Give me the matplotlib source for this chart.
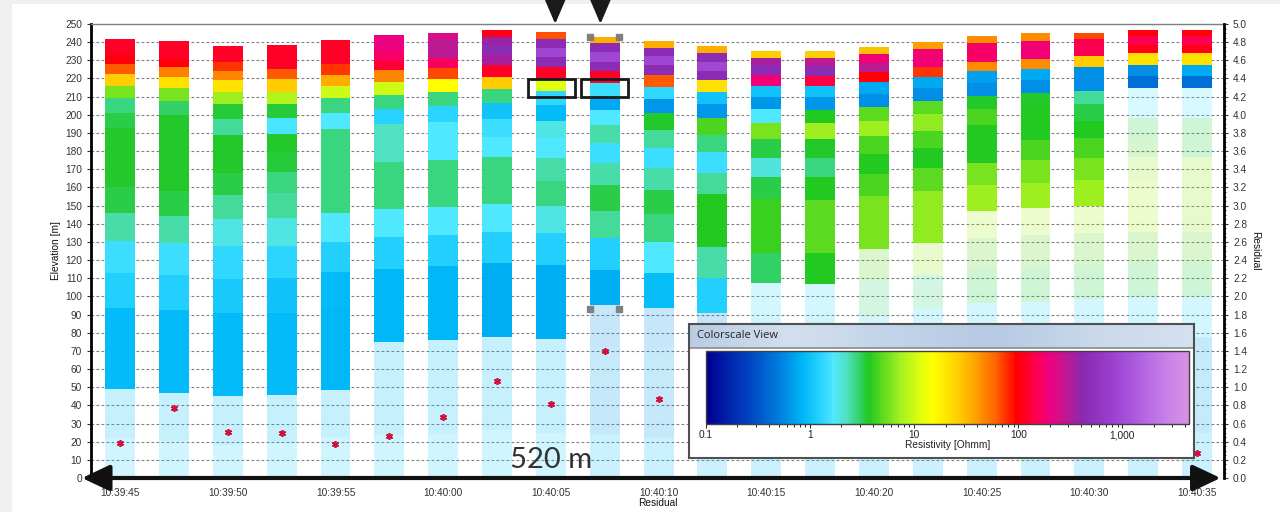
"""Resistivity sounding columns with residuals along a 520 m profile."""

import matplotlib

matplotlib.use("Agg")
import matplotlib.dates as mdates
import matplotlib.pyplot as plt
import matplotlib.ticker as mticker
import numpy as np
import pandas as pd
from matplotlib.cm import ScalarMappable
from matplotlib.colors import LinearSegmentedColormap, LogNorm
from matplotlib.patches import Rectangle

plt.rcParams["font.family"] = ["Liberation Sans", "DejaVu Sans"]

# sounding times (one column every 2.5 s)
times = pd.date_range("2021-06-14 10:39:45", periods=21, freq="2500ms")

# layer tops (m, top -> bottom) and layer resistivity (Ohm m) per sounding
layer_tops = [
    [241.7, 233.0, 228.0, 222.5, 216.0, 209.0, 201.0, 193.0, 160.0, 146.0, 130.7, 113.0, 93.8, 49.2, 22.0],
    [240.4, 231.0, 226.5, 221.0, 214.6, 207.6, 200.0, 158.2, 144.3, 129.3, 111.8, 92.5, 47.0, 20.5],
    [237.9, 229.3, 224.3, 219.2, 212.4, 205.8, 197.7, 188.9, 179.7, 168.1, 155.8, 142.4, 127.8, 109.6, 90.7, 45.2, 18.2],
    [238.4, 225.0, 219.5, 212.7, 206.1, 198.4, 189.3, 179.7, 168.7, 156.8, 142.9, 127.8, 110.0, 90.7, 45.5, 19.0],
    [241.2, 228.0, 222.0, 216.0, 209.0, 201.0, 192.2, 145.8, 130.1, 113.3, 94.3, 48.5, 22.7],
    [243.7, 235.7, 229.6, 224.7, 218.2, 210.9, 203.2, 194.8, 174.0, 148.0, 132.5, 115.0, 74.7, 23.7],
    [244.8, 241.5, 231.1, 226.0, 219.5, 212.6, 204.8, 195.9, 175.1, 149.4, 133.8, 116.7, 76.0, 24.0],
    [246.7, 242.6, 238.4, 232.9, 227.4, 221.0, 214.0, 206.3, 197.9, 188.0, 176.9, 150.9, 135.6, 118.2, 77.8, 26.4],
    [245.6, 241.5, 236.6, 232.0, 226.5, 219.2, 213.3, 205.4, 196.8, 187.0, 176.0, 163.7, 149.8, 134.7, 117.3, 76.7, 25.0],
    [243.0, 239.3, 234.8, 229.3, 224.3, 217.7, 210.0, 202.6, 194.4, 184.3, 173.3, 161.3, 147.2, 132.0, 114.5, 95.0, 72.0, 50.0, 24.0],
    [240.8, 237.0, 232.4, 227.4, 221.9, 215.5, 208.5, 200.8, 191.6, 181.9, 170.9, 158.6, 145.2, 130.1, 112.7, 93.4, 72.0, 50.0, 22.0],
    [238.0, 233.8, 229.3, 224.3, 219.2, 212.7, 205.8, 198.0, 188.9, 179.7, 168.1, 156.2, 127.4, 110.0, 90.7, 50.0, 22.0],
    [235.3, 231.5, 227.4, 221.9, 216.0, 210.0, 203.2, 195.3, 186.5, 176.4, 165.6, 153.5, 124.0, 107.5, 88.0, 60.0, 25.0],
    [235.3, 231.5, 226.9, 221.4, 216.0, 210.0, 202.6, 195.3, 186.5, 176.4, 165.6, 153.1, 124.0, 106.8, 88.0, 60.0, 25.0],
    [237.3, 233.3, 228.3, 223.8, 217.9, 211.3, 204.5, 196.6, 188.3, 178.4, 167.4, 155.3, 125.9, 109.0, 88.8, 60.0, 25.0],
    [240.3, 236.2, 226.5, 221.0, 214.6, 207.6, 200.3, 191.3, 181.5, 170.5, 158.2, 129.2, 111.8, 93.4, 60.0, 25.0],
    [243.4, 239.3, 229.3, 224.1, 217.3, 210.4, 203.0, 194.4, 173.3, 161.3, 147.2, 132.0, 114.9, 96.2, 60.0, 25.0],
    [244.8, 240.8, 230.7, 225.2, 219.2, 212.2, 204.8, 186.1, 175.1, 162.6, 148.5, 133.8, 116.0, 97.1, 60.0, 25.0],
    [245.3, 241.7, 232.4, 226.5, 213.3, 205.8, 196.8, 187.0, 176.0, 164.1, 149.8, 134.7, 117.3, 98.4, 60.0, 25.0],
    [246.7, 243.4, 238.4, 233.8, 227.4, 221.4, 214.6, 198.0, 187.0, 176.9, 164.1, 135.6, 119.1, 99.8, 78.0, 25.0],
    [246.7, 243.4, 238.4, 233.8, 227.4, 221.4, 214.6, 198.0, 176.9, 135.6, 119.1, 99.8, 77.8, 25.0],
]
layer_rho = [
    [120, 100, 62, 26, 5.8, 2.8, 3.2, 3.6, 3.2, 2.4, 1.5, 1.2, 0.9, 0.9, 1.3],
    [120, 100, 50, 21, 5.8, 3.0, 3.5, 3.2, 2.4, 1.45, 1.2, 0.9, 0.9, 1.3],
    [120, 75, 48, 21, 7.2, 3.4, 2.5, 3.6, 3.5, 3.2, 2.5, 1.9, 1.35, 1.1, 0.9, 0.9, 1.3],
    [120, 62, 26, 8.3, 3.4, 1.6, 3.6, 3.4, 2.8, 2.5, 1.9, 1.3, 1.0, 0.9, 0.9, 1.3],
    [120, 75, 35, 10, 2.8, 1.65, 2.8, 1.65, 1.2, 0.9, 0.85, 0.9, 1.3],
    [200, 170, 130, 48, 10, 2.8, 1.25, 2.2, 2.8, 1.65, 1.2, 0.85, 0.9, 1.3],
    [230, 290, 166, 70, 15, 2.8, 1.3, 1.65, 2.8, 1.65, 1.2, 0.85, 0.9, 1.3],
    [110, 360, 450, 330, 120, 26, 2.8, 1.0, 1.45, 1.65, 2.8, 1.65, 1.2, 0.8, 0.9, 1.3],
    [65, 450, 900, 450, 120, 11.5, 1.35, 0.9, 1.9, 1.65, 2.4, 2.8, 1.9, 1.2, 0.8, 0.9, 1.3],
    [35, 450, 900, 450, 120, 1.5, 0.75, 1.65, 2.4, 1.5, 2.4, 3.2, 2.5, 1.2, 0.8, 0.6, 0.7, 0.65, 1.0],
    [35, 450, 900, 450, 62, 1.35, 0.63, 3.6, 2.5, 1.5, 2.4, 3.2, 2.8, 1.65, 0.95, 0.6, 0.7, 0.65, 1.0],
    [35, 450, 900, 450, 21, 1.0, 0.63, 4.5, 2.8, 1.5, 2.5, 3.7, 2.4, 1.2, 0.6, 0.65, 1.0],
    [26, 330, 450, 190, 1.0, 0.63, 1.65, 5.8, 3.2, 2.0, 3.2, 4.2, 3.0, 1.5, 1.2, 0.8, 1.0],
    [26, 290, 450, 140, 1.0, 0.63, 3.7, 7.2, 3.5, 2.8, 3.7, 5.0, 3.7, 1.5, 1.2, 0.8, 1.0],
    [30, 190, 290, 100, 0.76, 0.58, 5.0, 7.2, 4.5, 3.7, 4.5, 5.8, 5.0, 2.8, 1.5, 0.8, 1.0],
    [40, 190, 75, 0.76, 0.58, 5.0, 6.6, 4.5, 3.7, 5.0, 6.6, 7.2, 2.8, 1.5, 0.8, 1.0],
    [45, 170, 45, 0.7, 0.58, 3.6, 4.5, 3.7, 5.8, 7.2, 8.0, 5.0, 3.2, 1.5, 0.8, 1.0],
    [45, 190, 45, 0.76, 0.58, 3.6, 3.7, 4.5, 5.8, 7.2, 8.0, 5.0, 3.2, 1.5, 0.8, 1.0],
    [70, 150, 26, 0.58, 2.5, 3.2, 3.7, 4.5, 5.8, 7.2, 8.0, 5.0, 3.2, 1.5, 0.8, 1.0],
    [100, 150, 110, 21, 0.58, 0.42, 1.65, 3.2, 4.5, 6.6, 8.0, 5.0, 3.2, 1.5, 0.8, 1.0],
    [100, 150, 110, 21, 0.76, 0.42, 1.65, 3.2, 6.6, 5.0, 3.2, 1.5, 0.7, 1.0],
]
# depth of investigation: layers at or below this elevation are greyed out
doi = [49.2, 47.0, 45.2, 45.5, 48.5, 74.7, 76.0, 77.8, 76.7, 95.0, 93.4,
       90.7, 107.5, 106.8, 125.9, 129.2, 147.2, 148.5, 149.8, 214.6, 214.6]
residual = [0.38, 0.77, 0.51, 0.50, 0.37, 0.46, 0.675, 1.07, 0.82, 1.40, 0.87,
            0.75, 0.62, 0.58, 0.70, 0.66, 0.55, 0.60, 0.52, 0.48, 0.28]

# colour scale nodes: log10(resistivity) -> colour
scale_log = [-1.00, -0.61, -0.29, -0.07, 0.13, 0.22, 0.35, 0.48, 0.56, 0.74, 0.86, 1.06,
             1.18, 1.41, 1.57, 1.79, 1.98, 2.14, 2.30, 2.46, 2.62, 2.91, 3.17, 3.43, 3.64]
scale_colors = ["#000090", "#0040c0", "#0080e0", "#00b8f8", "#30d8ff", "#50e8ff", "#50e0c0",
                "#30d060", "#20c820", "#70e020", "#a0f020", "#e0ff10", "#ffff00", "#ffd000",
                "#ffa800", "#ff6000", "#ff0000", "#ff0040", "#f00080", "#c01890", "#8a28b0",
                "#9a40d0", "#b060e0", "#c880e8", "#d890e8"]
rho_min, rho_max = 0.1, 10 ** 3.64

span = scale_log[-1] - scale_log[0]
cmap = LinearSegmentedColormap.from_list(
    "resistivity", [((v - scale_log[0]) / span, c) for v, c in zip(scale_log, scale_colors)]
)
norm = LogNorm(rho_min, rho_max)

W, H = 1280, 512
fig = plt.figure(figsize=(W / 100, H / 100), dpi=100, facecolor="#f0f0f0")
fig.add_artist(Rectangle((12 / W, 0), 1, 508 / H, transform=fig.transFigure,
                         facecolor="white", edgecolor="none", zorder=-5))

ax = fig.add_axes([91 / W, 34 / H, 1133 / W, 454 / H])
ax.set_axisbelow(True)

xnum = mdates.date2num(times)
sec = 1 / 86400
bar_w = 1.39 * sec
faded_alpha = 0.22

xs, heights, bottoms, colors = [], [], [], []
for x, tops, rhos, d in zip(xnum, layer_tops, layer_rho, doi):
    lows = tops[1:] + [0.0]
    for top, low, r in zip(tops, lows, rhos):
        rgba = list(cmap(norm(r)))
        if top <= d + 0.01:
            rgba[3] = faded_alpha
        xs.append(x)
        heights.append(top - low)
        bottoms.append(low)
        colors.append(rgba)
ax.bar(xs, heights, bottom=bottoms, width=bar_w, color=colors, linewidth=0, zorder=2)

ax.set_xlim(xnum[0] - 1.35 * sec, xnum[0] + 51.25 * sec)
ax.set_ylim(0, 250)
ax.xaxis.set_major_locator(mdates.SecondLocator(bysecond=range(0, 60, 5)))
ax.xaxis.set_major_formatter(mdates.DateFormatter("%H:%M:%S"))
ax.yaxis.set_major_locator(mticker.MultipleLocator(10))
ax.grid(axis="y", color="#808080", linestyle=(0, (2.5, 2)), linewidth=0.8)

label_color = "#333333"
ax.tick_params(axis="both", labelsize=7.3, colors=label_color, length=3, width=0.8)
ax.tick_params(axis="x", length=0, pad=7)
ax.set_ylabel("Elevation [m]", fontsize=7.3, color="#111111", labelpad=3)
ax.set_xlabel("Residual", fontsize=7.3, color="#111111", labelpad=0)

ax.spines["left"].set_linewidth(2)
ax.spines["left"].set_color("black")
ax.spines["top"].set_color("#808080")
ax.spines["top"].set_linewidth(1)
ax.spines["bottom"].set_visible(False)
ax.spines["right"].set_visible(False)

# residual axis
ax2 = ax.twinx()
ax2.set_ylim(0, 5)
ax2.yaxis.set_major_locator(mticker.MultipleLocator(0.2))
ax2.yaxis.set_minor_locator(mticker.MultipleLocator(0.05))
ax2.yaxis.set_major_formatter(mticker.FormatStrFormatter("%.1f"))
ax2.tick_params(axis="y", labelsize=7.3, colors=label_color, length=3, width=0.8)
ax2.tick_params(axis="y", which="minor", length=1.5, width=0.6, colors=label_color)
ax2.set_ylabel("Residual", fontsize=7.3, color="#111111", rotation=270, labelpad=9)
for name in ("left", "top", "bottom"):
    ax2.spines[name].set_visible(False)
ax2.spines["right"].set_linewidth(2)
ax2.spines["right"].set_color("black")
ax2.plot(xnum, residual, linestyle="none", marker=(6, 2, 0), markersize=5,
         markeredgecolor="#d0103a", markeredgewidth=1.2, zorder=3)

# profile length arrow along the base
ax2.annotate("", xy=(-0.008, 0), xytext=(0.997, 0), xycoords="axes fraction",
             textcoords="axes fraction",
             arrowprops=dict(arrowstyle="<|-|>,head_length=0.85,head_width=0.4",
                             mutation_scale=20, lw=3, color="#111111",
                             shrinkA=0, shrinkB=0),
             annotation_clip=False, zorder=6)
ax2.text(0.406, 0.04, "520 m", transform=ax2.transAxes, fontsize=21,
         family=["Lato", "DejaVu Sans"], color="#333333", ha="center", va="center", zorder=6)

# highlighted soundings
for t in (20.2, 22.3):
    ax.annotate("", xy=(xnum[0] + t * sec, 1.0), xytext=(xnum[0] + t * sec, 1.0),
                xycoords=("data", "axes fraction"), textcoords=("data", "figure fraction"),
                arrowprops=dict(arrowstyle="-|>,head_length=0.8,head_width=0.34",
                                mutation_scale=20, lw=2, color="#1a1a1a",
                                shrinkA=0, shrinkB=0),
                annotation_clip=False)
for x0, x1 in ((18.93, 21.14), (21.40, 23.60)):
    ax.add_patch(Rectangle((xnum[0] + x0 * sec, 210.0), (x1 - x0) * sec, 9.7,
                           fill=False, edgecolor="#1a1a1a", linewidth=2, zorder=5))
ax.plot(xnum[0] + np.array([21.82, 23.17, 21.82, 23.17]) * sec,
        [243.0, 243.0, 93.2, 93.2], linestyle="none", marker="s", markersize=4,
        color="#808080", zorder=5, clip_on=False)

# colour scale window
ins = fig.add_axes([689 / W, 54 / H, 505 / W, 134 / H], zorder=10)
ins.set_xlim(0, 1)
ins.set_ylim(0, 1)
ins.set_xticks([])
ins.set_yticks([])
ins.set_facecolor("white")
for sp in ins.spines.values():
    sp.set_color("#505050")
    sp.set_linewidth(1.5)
bar_top = 1 - 24 / 134
header = LinearSegmentedColormap.from_list(
    "header", ["#b9cce4", "#d3dfee", "#c2d4e9", "#b6cae3", "#c9d8eb", "#d6e1ef"]
)
ins.imshow(np.linspace(0, 1, 256)[None, :], extent=(0, 1, bar_top, 1), aspect="auto",
           cmap=header, zorder=1)
ins.axhline(bar_top, color="#8a8a8a", linewidth=1.2, zorder=2)
ins.text(8 / 505, 1 - 11 / 134, "Colorscale View", fontsize=8, color="#222222",
         family=["Open Sans", "DejaVu Sans"], va="center", ha="left", zorder=3)

cax = fig.add_axes([706 / W, 88 / H, 483 / W, 73 / H], zorder=11)
cb = fig.colorbar(ScalarMappable(norm=norm, cmap=cmap), cax=cax, orientation="horizontal")
cb.set_ticks([0.1, 1, 10, 100, 1000])
cb.set_ticklabels(["0.1", "1", "10", "100", "1,000"])
cb.minorticks_on()
cb.outline.set_edgecolor("#404040")
cb.outline.set_linewidth(1)
cax.tick_params(which="both", labelsize=7.3, colors="#222222", length=3, width=0.7, pad=1.5)
cax.tick_params(which="minor", length=2)
cb.set_label("Resistivity [Ohmm]", fontsize=7.3, color="#222222", labelpad=0)

fig.savefig("out.png", dpi=100, facecolor=fig.get_facecolor())
